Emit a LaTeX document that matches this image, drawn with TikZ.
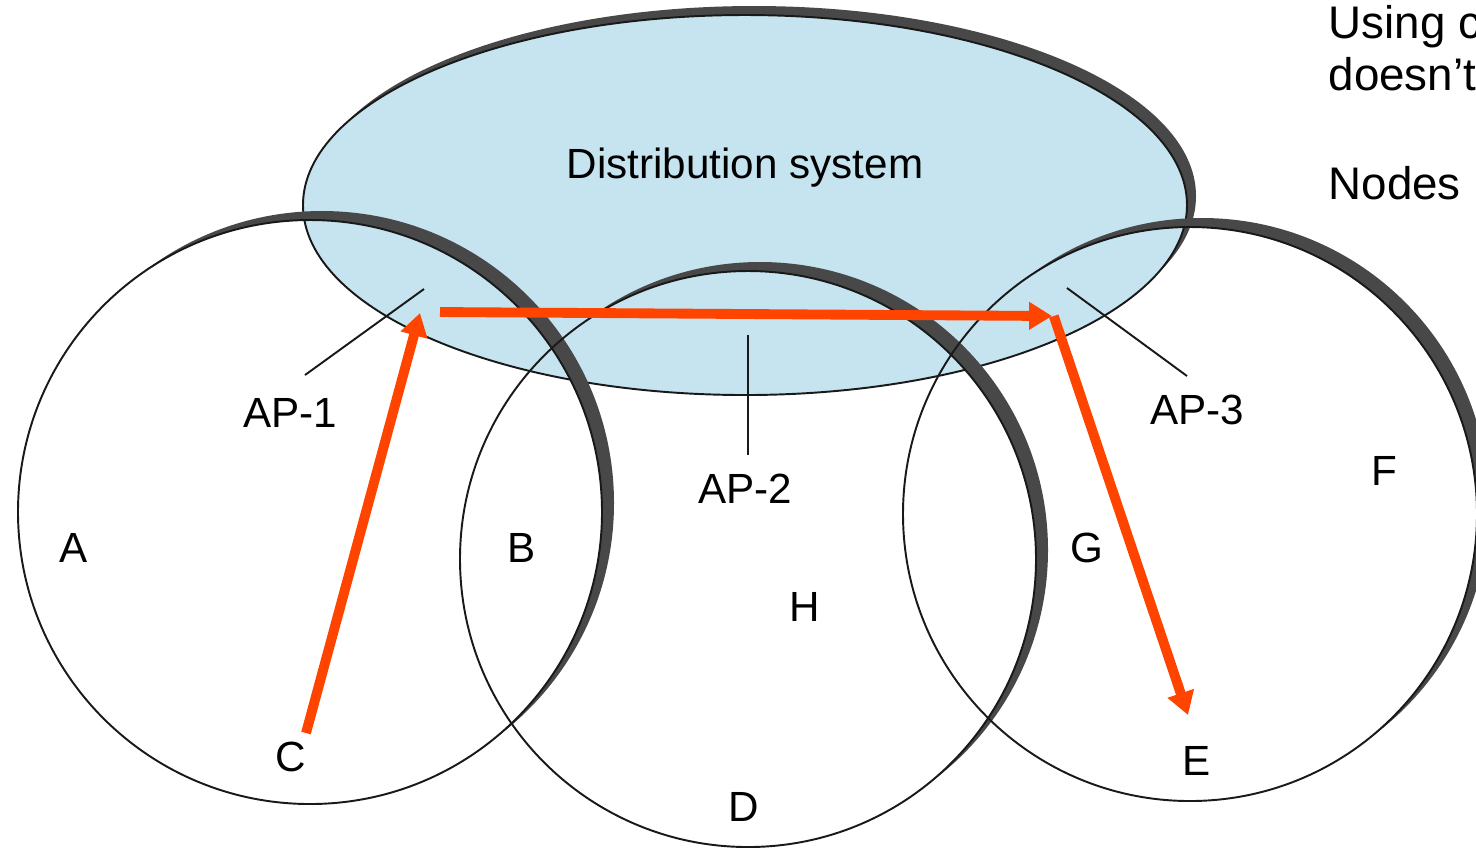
\documentclass[tikz,border=0pt]{standalone}
\usepackage{fontspec}
\setmainfont{Liberation Sans}
\usetikzlibrary{arrows.meta}
\definecolor{dsblue}{RGB}{197,228,240}
\definecolor{rimgrey}{RGB}{72,72,72}
\definecolor{pathred}{RGB}{255,68,0}
\tikzset{
  cell/.style={draw=black!90, line width=0.55pt},
  rim/.style={fill=rimgrey},
  lbl/.style={anchor=base, inner sep=0pt, font=\fontsize{12}{14}\selectfont},
  note/.style={anchor=base west, inner sep=0pt, font=\fontsize{13}{15}\selectfont},
  pointer/.style={draw=black!90, line width=0.55pt},
  hop/.style={draw=pathred, line width=2.8pt, -{Triangle[length=6.5pt, width=7.5pt]}},
}
\begin{document}
\begin{tikzpicture}[x=0.01cm, y=-0.01cm]
    \useasboundingbox (0,0) rectangle (1476,850);
    % the distribution system, with its dark rim on the upper right
    \begin{scope}[even odd rule]
        \clip (-100,-100) rectangle (1600,950) (745,205) ellipse (442 and 190);
        \fill[rim] (754,196) ellipse (442 and 190);
    \end{scope}
    \draw[cell, fill=dsblue] (745,205) ellipse (442 and 190);
    % the three cells: rims first, then the outlines
    \foreach \cx/\cy/\rad in {310/512/292, 748/559/288, 1190/514/287}{
        \begin{scope}[even odd rule]
            \clip (-100,-100) rectangle (1600,950) (\cx,\cy) circle (\rad);
            \fill[rim] (\cx+12,\cy-9) circle (\rad);
        \end{scope}
    }
    \foreach \cx/\cy/\rad in {310/512/292, 748/559/288, 1190/514/287}{
        \draw[cell] (\cx,\cy) circle (\rad);
    }
    % labels
    \node[lbl] (ds) at (745,178) {Distribution system};
    \node[lbl] (ap1) at (290,427) {AP-1};
    \node[lbl] (ap2) at (745,503) {AP-2};
    \node[lbl] (ap3) at (1197,424) {AP-3};
    \foreach \n/\x/\y in {A/74/562, B/522/562, C/291/771, D/744/821, E/1197/775, F/1384/485, G/1087/562, H/805/621}{
        \node[lbl] (st\n) at (\x,\y) {\n};
    }
    \node[note] (note1) at (1328,38) {Using c};
    \node[note] (note2) at (1328,90) {doesn’t};
    \node[note] (note3) at (1328,199) {Nodes};
    % pointers from the AP labels into the distribution system
    \coordinate (ap1a) at (305,375);
    \coordinate (ap1b) at (424,289);
    \coordinate (ap2a) at (748,455);
    \coordinate (ap2b) at (748,335);
    \coordinate (ap3a) at (1187,376);
    \coordinate (ap3b) at (1067,288);
    \draw[pointer] (ap1a) -- (ap1b);
    \draw[pointer] (ap2a) -- (ap2b);
    \draw[pointer] (ap3a) -- (ap3b);
    % the path C -> AP-1 -> AP-3 -> E
    \coordinate (hopC) at (306,733);
    \coordinate (hop1) at (420,313);
    \coordinate (hop2) at (440,312);
    \coordinate (hop3) at (1052,316);
    \coordinate (hopE) at (1188,715);
    \draw[hop] (hopC) -- (hop1);
    \draw[hop] (hop2) -- (hop3);
    \draw[hop] ([xshift=0.5pt]hop3) -- (hopE);
\end{tikzpicture}
\end{document}
